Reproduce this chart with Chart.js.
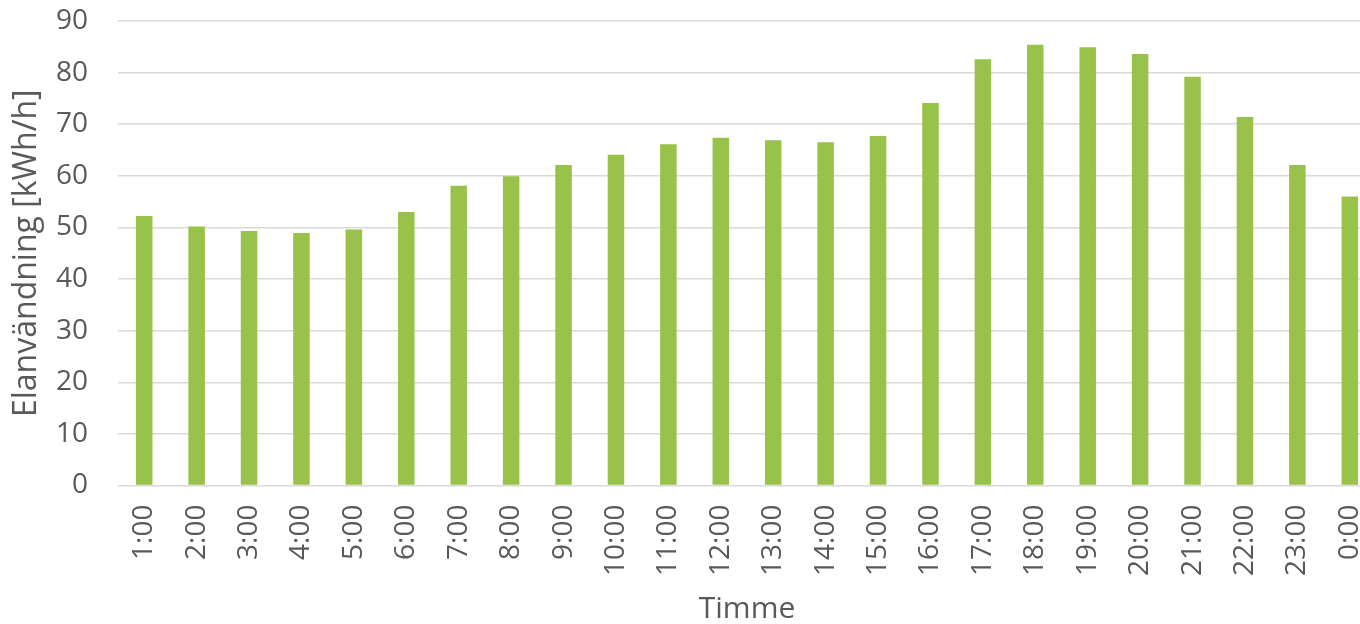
<!DOCTYPE html>
<html>
<head>
<meta charset="utf-8">
<script src="https://cdn.jsdelivr.net/npm/chart.js@4.4.1/dist/chart.umd.min.js"></script>
<style>
    body { margin: 0; background: #fff; overflow: hidden; }
    #wrap { width: 1376px; height: 624px; position: relative; }
</style>
</head>
<body>
<div id="wrap"><canvas id="elChart"></canvas></div>
<script>
// Hourly electricity use
const hours = ['1:00', '2:00', '3:00', '4:00', '5:00', '6:00', '7:00', '8:00', '9:00', '10:00', '11:00', '12:00',
    '13:00', '14:00', '15:00', '16:00', '17:00', '18:00', '19:00', '20:00', '21:00', '22:00', '23:00', '0:00'];
const usage = [52.2, 50.2, 49.3, 48.9, 49.6, 53.0, 58.1, 59.9, 62.1, 64.1, 66.1, 67.4,
    66.9, 66.5, 67.7, 74.1, 82.6, 85.4, 84.9, 83.6, 79.2, 71.4, 62.1, 56.0];
const yTicks = [0, 10, 20, 30, 40, 50, 60, 70, 80, 90];

const textColor = '#595959';
const fontFamily = '"Open Sans", "Noto Sans", sans-serif';

// drop the automatic edge padding chart.js adds for tick labels
function noEdgePadding(scale) {
    scale.paddingTop = 0;
    scale.paddingBottom = 0;
    scale.paddingLeft = 0;
    scale.paddingRight = 0;
}

document.addEventListener('DOMContentLoaded', function() {
    const ctx = document.getElementById('elChart').getContext('2d');
    new Chart(ctx, {
        type: 'bar',
        data: {
            labels: hours,
            datasets: [{
                label: 'Elanvändning',
                data: usage,
                backgroundColor: '#99C24A',
                borderWidth: 0,
                categoryPercentage: 1,
                barPercentage: 0.315
            }]
        },
        options: {
            responsive: true,
            maintainAspectRatio: false,
            animation: false,
            layout: { padding: { top: 21, right: 0, bottom: 0, left: 0 } },
            plugins: {
                legend: { display: false },
                tooltip: { enabled: false }
            },
            scales: {
                x: {
                    grid: { display: false, drawTicks: false },
                    border: { display: false },
                    ticks: {
                        color: textColor,
                        font: { family: fontFamily, size: 28 },
                        minRotation: 90,
                        maxRotation: 90,
                        padding: 19,
                        autoSkip: false
                    },
                    title: {
                        display: true,
                        text: 'Timme',
                        color: textColor,
                        font: { family: fontFamily, size: 30, lineHeight: 1 },
                        padding: { top: 0, bottom: 0 }
                    },
                    afterFit: function(scale) {
                        scale.height = 138.5;
                        noEdgePadding(scale);
                    }
                },
                y: {
                    min: 0,
                    max: yTicks[yTicks.length - 1],
                    afterBuildTicks: function(scale) {
                        scale.ticks = yTicks.map(v => ({ value: v }));
                    },
                    grid: { color: '#d9d9d9', lineWidth: 1.5, drawTicks: false },
                    border: { display: false },
                    ticks: {
                        color: textColor,
                        font: { family: fontFamily, size: 28 },
                        padding: 30
                    },
                    title: {
                        display: true,
                        text: 'Elanvändning [kWh/h]',
                        color: textColor,
                        font: { family: fontFamily, size: 32, lineHeight: 1 },
                        padding: { top: 11, bottom: 0 }
                    },
                    afterFit: function(scale) {
                        scale.width = 118;
                        noEdgePadding(scale);
                    }
                }
            }
        }
    });
});
</script>
</body>
</html>
